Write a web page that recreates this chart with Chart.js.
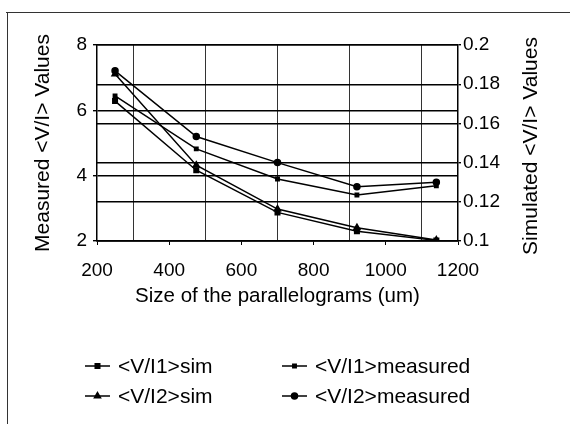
<!DOCTYPE html>
<html><head><meta charset="utf-8">
<script src="https://cdn.jsdelivr.net/npm/chart.js@4.4.1/dist/chart.umd.min.js"></script>
<style>html,body{margin:0;padding:0;background:#fff;} #wrap{width:570px;height:424px;position:relative;}</style>
</head><body><div id="wrap"><canvas id="c" width="570" height="424"></canvas></div>
<script>
// ---- data ----
const sizes = [250, 475, 700, 920, 1140];
const vi1Sim = [0.1714, 0.1361, 0.1146, 0.1050, 0.1003];
const vi1Measured = [6.44, 4.82, 3.90, 3.41, 3.69];
const vi2Sim = [0.1852, 0.1387, 0.1163, 0.1068, 0.1005];
const vi2Measured = [7.21, 5.20, 4.40, 3.66, 3.80];
const seriesLabels = ['<V/I1>sim', '<V/I1>measured', '<V/I2>sim', '<V/I2>measured'];
const xTitle = 'Size of the parallelograms (um)';
const yLeftTitle = 'Measured <V/I> Values';
const yRightTitle = 'Simulated <V/I> Values';

const FONT = "'Liberation Sans', Arial, Helvetica, sans-serif";
Chart.defaults.font.family = FONT;
Chart.defaults.color = '#000';

function pts(ys) { return sizes.map((x, i) => ({x: x, y: ys[i]})); }

const common = {borderColor: '#000', backgroundColor: '#000', pointBackgroundColor: '#000',
  pointBorderColor: '#000', borderWidth: 1.5, tension: 0, fill: false};

const datasets = [
  Object.assign({label: seriesLabels[0], data: pts(vi1Sim), yAxisID: 'y2', pointStyle: 'rect', pointRadius: 3.2}, common),
  Object.assign({label: seriesLabels[1], data: pts(vi1Measured), yAxisID: 'y', pointStyle: 'rect', pointRadius: 2.4}, common),
  Object.assign({label: seriesLabels[2], data: pts(vi2Sim), yAxisID: 'y2', pointStyle: 'triangle', pointRadius: 3.5}, common),
  Object.assign({label: seriesLabels[3], data: pts(vi2Measured), yAxisID: 'y', pointStyle: 'circle', pointRadius: 3}, common)
];

const decor = {
  id: 'decor',
  beforeDraw(chart) {
    const ctx = chart.ctx;
    ctx.save();
    ctx.strokeStyle = '#333';
    ctx.lineWidth = 1;
    ctx.beginPath();
    ctx.moveTo(6, 12.5); ctx.lineTo(570, 12.5);
    ctx.moveTo(7.5, 12); ctx.lineTo(7.5, 424);
    ctx.stroke();
    ctx.restore();
  },
  afterDraw(chart) {
    const ctx = chart.ctx;
    const area = chart.chartArea;
    ctx.save();
    ctx.font = '21px ' + FONT;
    ctx.fillStyle = '#000';
    ctx.textAlign = 'center';
    ctx.textBaseline = 'middle';
    ctx.translate(531, (area.top + area.bottom) / 2 + 3);
    ctx.rotate(-Math.PI / 2);
    ctx.fillText(yRightTitle, 0, 0);
    ctx.restore();

    const cols = [85, 282];
    const rows = [366, 396];
    chart.data.datasets.forEach((ds, i) => {
      const x0 = cols[i % 2];
      const y = rows[Math.floor(i / 2)];
      ctx.save();
      ctx.strokeStyle = '#000';
      ctx.lineWidth = 1.5;
      ctx.beginPath();
      ctx.moveTo(x0, y); ctx.lineTo(x0 + 25, y);
      ctx.stroke();
      ctx.fillStyle = '#000';
      Chart.helpers.drawPoint(ctx, {pointStyle: ds.pointStyle, radius: ds.pointRadius, rotation: 0, borderWidth: 1}, x0 + 12.5, y);
      ctx.font = '21px ' + FONT;
      ctx.textAlign = 'left';
      ctx.textBaseline = 'middle';
      ctx.fillText(ds.label, x0 + 33, y + 1);
      ctx.restore();
    });
  }
};

new Chart(document.getElementById('c'), {
  type: 'line',
  data: {datasets: datasets},
  options: {
    responsive: false,
    animation: false,
    layout: {padding: {left: 0, right: 0, top: 45, bottom: 113}},
    plugins: {legend: {display: false}, tooltip: {enabled: false}},
    scales: {
      x: {
        type: 'linear', min: 200, max: 1200,
        afterFit(s) { s.height = 70; },
        ticks: {stepSize: 100, autoSkip: false, maxRotation: 0, padding: 14,
          font: {size: 19}, color: '#000',
          callback: (v) => (v % 200 === 0 ? String(v) : '')},
        grid: {
          color: (c) => (c.tick && c.tick.value % 200 === 100 ? '#333' : 'rgba(0,0,0,0)'),
          tickColor: (c) => (c.tick && c.tick.value % 200 === 0 ? '#000' : 'rgba(0,0,0,0)'),
          tickLength: 4, lineWidth: 1
        },
        border: {display: true, color: '#000', width: 1.5},
        title: {display: true, text: xTitle, font: {size: 20.5}, color: '#000', padding: {top: 0, bottom: 2}}
      },
      y: {
        type: 'linear', position: 'left', min: 2, max: 8,
        afterFit(s) { s.width = 97; },
        ticks: {stepSize: 2, padding: 6, font: {size: 19}, color: '#000'},
        grid: {color: '#000', lineWidth: 1.4, tickLength: 4, tickColor: '#000'},
        border: {display: true, color: '#000', width: 1.5},
        title: {display: true, text: yLeftTitle, font: {size: 21}, color: '#000', padding: {top: 31, bottom: 0}}
      },
      y2: {
        type: 'linear', position: 'right', min: 0.1, max: 0.2,
        afterFit(s) { s.width = 112; },
        ticks: {stepSize: 0.02, padding: 2, font: {size: 19}, color: '#000',
          callback: (v) => String(parseFloat(Number(v).toFixed(2)))},
        grid: {color: '#000', lineWidth: 1.4, tickLength: 3, tickColor: '#000'},
        border: {display: true, color: '#000', width: 1.5}
      }
    }
  },
  plugins: [decor]
});
</script></body></html>
